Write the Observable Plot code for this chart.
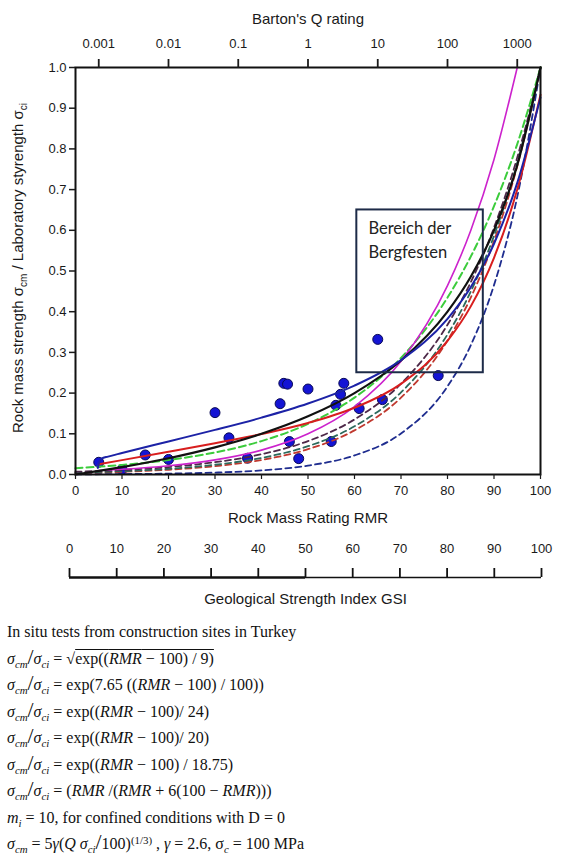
<!DOCTYPE html>
<html><head><meta charset="utf-8">
<script src="https://cdn.jsdelivr.net/npm/d3@7"></script>
<script src="https://cdn.jsdelivr.net/npm/@observablehq/plot@0.6"></script>
<style>
body{margin:0;background:#fff;}
#wrap{width:562px;}
#wrap svg{display:block;}
.txt{font-family:"Liberation Serif","Times New Roman",serif;font-size:16px;color:#111;padding-top:2px;}
.txt div{height:26.5px;line-height:26.5px;white-space:nowrap;padding-left:7px;}
.txt sub{font-size:0.68em;vertical-align:-0.35em;line-height:0;font-style:italic;}
.txt sup{font-size:0.68em;vertical-align:0.5em;line-height:0;}
.txt .sl{font-size:1.35em;line-height:0;}
.ov{text-decoration:overline;}
</style></head><body><div id="wrap"></div>
<script>
// ---------- data ----------
const rmr = [0,10,20,30,40,50,60,70,80,85,90,95,100];
const exp24   = [0.0155,0.0235,0.0357,0.0541,0.0821,0.1245,0.1889,0.2865,0.4346,0.5353,0.6592,0.8119,1.0];
const exp765  = [0.0005,0.0010,0.0022,0.0047,0.0101,0.0218,0.0469,0.1008,0.2165,0.3174,0.4653,0.6821,1.0];
const exp20   = [0.0067,0.0111,0.0183,0.0302,0.0498,0.0821,0.1353,0.2231,0.3679,0.4724,0.6065,0.7788,1.0];
const exp1875 = [0.0048,0.0082,0.0140,0.0239,0.0408,0.0695,0.1184,0.2019,0.3442,0.4493,0.5866,0.7659,1.0];
const sqrt9   = [0.0039,0.0067,0.0117,0.0205,0.0357,0.0622,0.1084,0.1889,0.3292,0.4346,0.5738,0.7575,1.0];
const rmrK = [0,5,10,20,30,40,50,60,70,80,85,90,95,100];
const ratioK = [0,0.0087,0.0182,0.04,0.0667,0.1,0.1429,0.2,0.28,0.4,0.4857,0.6,0.76,1.0];
const rmrB = [4.8,5.1,5.6,7,10,20,30,40,50,60,70,80,85,90,95,100];
const hoekB = [0.016,0.03,0.039,0.044,0.0528,0.0812,0.1096,0.1397,0.1744,0.2184,0.281,0.3825,0.46,0.567,0.7165,0.9266];
const rmrR = [5,10,20,30,40,50,60,70,80,85,90,95,100];
const hoekR = [0.0253,0.0353,0.0559,0.077,0.0995,0.1266,0.1639,0.2226,0.3281,0.4131,0.5325,0.70,0.933];
const rmrM = [5,10,20,30,40,50,60,70,80,85,90,95];
const bartonM = [0.010,0.0129,0.0215,0.0359,0.0599,0.10,0.1668,0.278,0.464,0.5995,0.774,1.0];

const ptRmr   = [5,10,15,20,30,33,37,44,44.8,45.6,46,48,50,55,56,57,57.7,61,65,66,78];
const ptRatio = [0.03,0.012,0.048,0.037,0.152,0.09,0.04,0.174,0.224,0.222,0.081,0.039,0.21,0.081,0.17,0.197,0.224,0.162,0.332,0.184,0.243];

const qTicks = [0.001,0.01,0.1,1,10,100,1000];
const rmrTicks = [0,10,20,30,40,50,60,70,80,90,100];
const gsiTicks = [0,10,20,30,40,50,60,70,80,90,100];
const yTicks = [0,0.1,0.2,0.3,0.4,0.5,0.6,0.7,0.8,0.9,1.0];
const box = [{x1:60.5, x2:87.7, y1:0.25, y2:0.65}];
const boxLabel = [{x:63, y:0.632, t:"Bereich der\nBergfesten"}];
const gsiSegments = [{x1:0,x2:50,part:"a"},{x1:50,x2:100,part:"b"}];

// ---------- styles ----------
const series = [
  {xs:rmr,  ys:exp765,  stroke:"#1f2d8f", dash:"6,4", w:1.8},
  {xs:rmr,  ys:sqrt9,   stroke:"#c0392f", dash:"6,4", w:1.8},
  {xs:rmr,  ys:exp1875, stroke:"#2c6a5c", dash:"6,4", w:1.8},
  {xs:rmr,  ys:exp20,   stroke:"#4d2848", dash:"6,4", w:1.8},
  {xs:rmr,  ys:exp24,   stroke:"#3ccc3c", dash:"7,4", w:2},
  {xs:rmrM, ys:bartonM, stroke:"#cc22cc", dash:null,  w:1.6},
  {xs:rmrR, ys:hoekR,   stroke:"#d81e1e", dash:null,  w:2},
  {xs:rmrK, ys:ratioK,  stroke:"#111111", dash:null,  w:2.2},
  {xs:rmrB, ys:hoekB,   stroke:"#1c22a6", dash:null,  w:2}
];
const sans = "'Liberation Sans', Arial, sans-serif";
const qToRmr = q => 50 + 15 * Math.log10(q);

const points = ptRmr.map((x,i)=>({x, y:ptRatio[i]}));

const main = Plot.plot({
  width:562, height:532,
  marginLeft:75, marginRight:22, marginTop:67, marginBottom:58,
  x:{domain:[0,100]},
  y:{domain:[0,1]},
  style:{fontFamily:sans, fontSize:"13px", color:"#1a1a1a", background:"#fff"},
  marks:[
    Plot.dot(points, {x:"x", y:"y", r:5, fill:"#1414d4", stroke:"#0a0a55", strokeWidth:1}),
    ...series.map(s => Plot.line(s.xs.map((x,i)=>({x, y:s.ys[i]})), {
      x:"x", y:"y", stroke:s.stroke, strokeWidth:s.w, strokeDasharray:s.dash, curve:"monotone-x"
    })),
    Plot.rect(box, {x1:"x1", x2:"x2", y1:"y1", y2:"y2", fill:"none", stroke:"#1d2b48", strokeWidth:2}),
    Plot.text(boxLabel, {x:"x", y:"y", text:"t", textAnchor:"start", lineAnchor:"top", fontSize:16.5, lineHeight:1.45, fontFamily:"Lato, 'Open Sans', sans-serif", fill:"#222"}),
    Plot.frame({strokeWidth:2, stroke:"#111"}),
    Plot.axisY({ticks:yTicks, tickFormat:d3.format(".1f"), tickSize:6, tickPadding:3, strokeWidth:1.5, label:null}),
    Plot.axisX({anchor:"bottom", ticks:rmrTicks, tickSize:5, tickPadding:6, strokeWidth:1.2, label:null}),
    Plot.axisX(qTicks.map(qToRmr), {anchor:"top", tickSize:9, tickPadding:11, strokeWidth:1.8, label:null,
      tickFormat: d => String(+Math.pow(10,(d-50)/15).toPrecision(1))}),
    Plot.text(["Barton's Q rating"], {frameAnchor:"top", dy:-54, fontSize:15}),
    Plot.text(["Rock Mass Rating RMR"], {frameAnchor:"bottom", dy:48, fontSize:15})
  ]
});

// y-axis title with subscripts
const sv = d3.select(main);
const yt = sv.append("text")
  .attr("transform","translate(23,268) rotate(-90)")
  .attr("text-anchor","middle")
  .attr("font-family", sans).attr("font-size",15).attr("fill","#1a1a1a");
yt.append("tspan").text("Rock mass strength σ");
yt.append("tspan").attr("font-size",10).attr("dy",4).text("cm");
yt.append("tspan").attr("dy",-4).text(" / Laboratory styrength σ");
yt.append("tspan").attr("font-size",10).attr("dy",4).text("ci");

const gsi = Plot.plot({
  width:562, height:85,
  marginLeft:69, marginRight:21, marginTop:36, marginBottom:40,
  x:{domain:[0,100]},
  y:{domain:[0,1], axis:null},
  style:{fontFamily:sans, fontSize:"13px", color:"#1a1a1a", background:"#fff"},
  marks:[
    Plot.ruleX(gsiTicks, {x:d => d, y1:0, y2:1, strokeWidth:1.8, stroke:"#111"}),
    Plot.ruleY(gsiSegments, {y:0, x1:"x1", x2:"x2", strokeWidth:d => d.part==="a" ? 2.6 : 1.4, stroke:"#111"}),
    Plot.axisX({anchor:"top", ticks:gsiTicks, tickSize:0, tickPadding:16, label:null}),
    Plot.text(["Geological Strength Index GSI"], {frameAnchor:"bottom", dy:26, fontSize:15})
  ]
});

const wrap = document.getElementById("wrap");
wrap.appendChild(main);
wrap.appendChild(gsi);

const S = '<i>σ</i><sub>cm</sub><span class="sl">/</span><i>σ</i><sub>ci</sub> = ';
const lines = [
  'In situ tests from construction sites in Turkey',
  S + '√<span class="ov">exp((<i>RMR</i> − 100) / 9)</span>',
  S + 'exp(7.65 ((<i>RMR</i> − 100) / 100))',
  S + 'exp((<i>RMR</i> − 100)/ 24)',
  S + 'exp((<i>RMR</i> − 100)/ 20)',
  S + 'exp((<i>RMR</i> − 100) / 18.75)',
  S + '(<i>RMR</i> /(<i>RMR</i> + 6(100 − <i>RMR</i>)))',
  '<i>m</i><sub>i</sub> = 10, for confined conditions with D = 0',
  '<i>σ</i><sub>cm</sub> = 5<i>γ</i>(<i>Q σ</i><sub>ci</sub><span class="sl">/</span>100)<sup>(1/3)</sup> , <i>γ</i> = 2.6, σ<sub>c</sub> = 100 MPa'
];
const txt = document.createElement("div");
txt.className = "txt";
txt.innerHTML = lines.map(l => '<div>' + l + '</div>').join("");
wrap.appendChild(txt);
</script>
</body></html>
